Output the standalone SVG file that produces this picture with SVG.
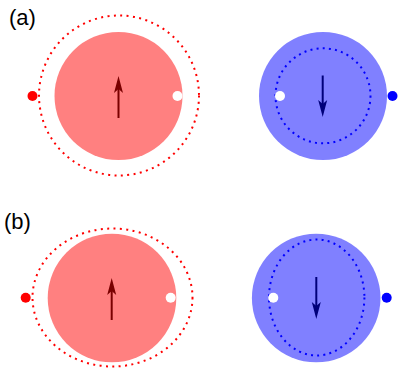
<svg xmlns="http://www.w3.org/2000/svg" width="399" height="368" viewBox="0 0 399 368">
<style>
.lbl{font-family:"Liberation Sans",Arial,sans-serif;font-size:22px;fill:#000}
.rfill{fill:#ff8080}
.bfill{fill:#8080ff}
.rdot{fill:none;stroke:#ff0000;stroke-width:2;stroke-dasharray:2 4.4}
.bdot{fill:none;stroke:#0000ff;stroke-width:2;stroke-dasharray:2 4.2}
.rarr{stroke:#7a0000;stroke-width:2;fill:none}
.barr{stroke:#00007a;stroke-width:2;fill:none}
.rhead{fill:#7a0000}
.bhead{fill:#00007a}
</style>
<text class="lbl" x="9" y="25">(a)</text>
<text class="lbl" x="4" y="229">(b)</text>
<g id="a-left">
<circle class="rfill" cx="118.5" cy="96" r="64"/>
<circle class="rdot" cx="119" cy="95.5" r="80"/>
<circle cx="32.5" cy="96" r="5" fill="#ff0000"/>
<circle cx="177.5" cy="96" r="5" fill="#ffffff"/>
<line class="rarr" x1="118.5" y1="118" x2="118.5" y2="88"/>
<path class="rhead" d="M118.5,76 L123,93 L118.5,89 L114,93 Z"/>
</g>
<g id="a-right">
<circle class="bfill" cx="323" cy="96" r="64"/>
<circle class="bdot" cx="323" cy="95.8" r="47.5"/>
<circle cx="280" cy="96" r="5" fill="#ffffff"/>
<circle cx="392.5" cy="96" r="5" fill="#0000ff"/>
<line class="barr" x1="322.7" y1="75.5" x2="322.7" y2="105"/>
<path class="bhead" d="M322.7,117 L318.2,100 L322.7,104 L327.2,100 Z"/>
</g>
<g id="b-left">
<circle class="rfill" cx="112" cy="298" r="64.3"/>
<ellipse class="rdot" cx="112.5" cy="297.5" rx="80" ry="69"/>
<circle cx="25.7" cy="297.7" r="5" fill="#ff0000"/>
<circle cx="170.7" cy="297.7" r="5" fill="#ffffff"/>
<line class="rarr" x1="111.7" y1="320" x2="111.7" y2="290"/>
<path class="rhead" d="M111.7,278 L116.2,295 L111.7,291 L107.2,295 Z"/>
</g>
<g id="b-right">
<circle class="bfill" cx="316.2" cy="298" r="64.3"/>
<ellipse class="bdot" cx="316.7" cy="297.5" rx="47.7" ry="58"/>
<circle cx="273.3" cy="297.7" r="5" fill="#ffffff"/>
<circle cx="386.7" cy="297.7" r="5" fill="#0000ff"/>
<line class="barr" x1="316.3" y1="277" x2="316.3" y2="307"/>
<path class="bhead" d="M316.3,319 L311.8,302 L316.3,306 L320.8,302 Z"/>
</g>
<g id="connectors"></g>
</svg>
